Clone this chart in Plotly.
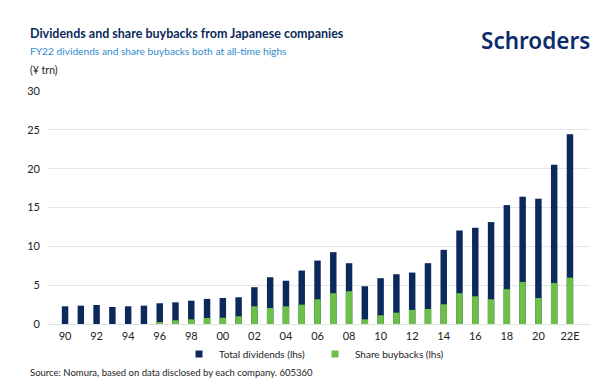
import plotly.graph_objects as go

years = ["90", "91", "92", "93", "94", "95", "96", "97", "98", "99",
         "00", "01", "02", "03", "04", "05", "06", "07", "08", "09",
         "10", "11", "12", "13", "14", "15", "16", "17", "18", "19",
         "20", "21", "22E"]
total_dividends = [2.28, 2.36, 2.45, 2.19, 2.28, 2.36, 2.67, 2.79, 3.00, 3.23,
                   3.35, 3.44, 4.74, 6.02, 5.57, 6.88, 8.17, 9.25, 7.83, 4.86,
                   5.90, 6.41, 6.62, 7.83, 9.55, 12.04, 12.39, 13.12, 15.31, 16.39,
                   16.13, 20.52, 24.43]
share_buybacks = [0, 0, 0, 0, 0, 0, 0.26, 0.48, 0.60, 0.77,
                  0.81, 0.99, 2.28, 2.06, 2.28, 2.49, 3.18, 3.96, 4.22, 0.60,
                  1.12, 1.46, 1.81, 1.94, 2.54, 3.96, 3.57, 3.18, 4.48, 5.42,
                  3.35, 5.29, 5.97]
tick_labels = ["90", "92", "94", "96", "98", "00", "02", "04", "06", "08",
               "10", "12", "14", "16", "18", "20", "22E"]
y_ticks = [0, 5, 10, 15, 20, 25, 30]

NAVY = "#0b2a5b"
GREEN = "#6cc04a"
BLUE = "#2f8ccb"
FONT = "Lato"
TXT = "#222222"

W, H = 606, 388
L, R, T, B = 40, 24, 83, 72
PW, PH = W - L - R, H - T - B


def px(x):
    return (x - L) / PW


def py(y):
    return (H - B - y) / PH


fig = go.Figure()
fig.add_trace(go.Bar(x=years, y=total_dividends, marker=dict(color=NAVY, line=dict(width=0)),
                     showlegend=False, name="Total dividends (lhs)"))
fig.add_trace(go.Bar(x=years, y=share_buybacks, marker=dict(color=GREEN, line=dict(width=0)),
                     showlegend=False, name="Share buybacks (lhs)"))
fig.add_trace(go.Scatter(x=[None], y=[None], mode="markers", name="Total dividends (lhs)",
                         marker=dict(symbol="square", size=7, color=NAVY)))
fig.add_trace(go.Scatter(x=[None], y=[None], mode="markers", name="Share buybacks (lhs)",
                         marker=dict(symbol="square", size=7, color=GREEN)))

annotations = [
    dict(text="<b>Dividends and share buybacks from Japanese companies</b>", x=px(20), y=py(25),
         font=dict(size=12.5, color=NAVY, family=FONT)),
    dict(text="FY22 dividends and share buybacks both at all-time highs", x=px(20), y=py(43),
         font=dict(size=10.2, color=BLUE, family=FONT)),
    dict(text="(¥ trn)", x=px(20), y=py(62), font=dict(size=10.5, color=TXT, family=FONT)),
    dict(text="Source: Nomura, based on data disclosed by each company. 605360", x=px(20), y=py(364),
         font=dict(size=9.5, color=TXT, family=FONT)),
]
for a in annotations:
    a.update(xref="paper", yref="paper", xanchor="left", yanchor="middle", showarrow=False)
annotations.append(dict(text="Schroders", x=px(584), y=py(32), xref="paper", yref="paper",
                        xanchor="right", yanchor="middle", showarrow=False,
                        font=dict(size=22.5, color="#0c2c6a", family="Noto Sans", weight=600)))

fig.update_layout(
    width=W, height=H,
    margin=dict(l=L, r=R, t=T, b=B, pad=0),
    paper_bgcolor="white", plot_bgcolor="white",
    barmode="overlay", bargap=0.59,
    font=dict(family=FONT, size=11, color=TXT),
    annotations=annotations,
    legend=dict(orientation="h", x=px(171), xanchor="left", y=py(346), yanchor="middle",
                font=dict(size=10, color=TXT, family=FONT),
                entrywidth=91, entrywidthmode="pixels",
                bgcolor="rgba(0,0,0,0)"),
    xaxis=dict(type="category", range=[-1.08, 33.27], tickmode="array", tickvals=tick_labels,
               ticktext=tick_labels, showgrid=False, showline=False, zeroline=False,
               ticks="", ticklabelstandoff=4, tickfont=dict(size=11, color=TXT)),
    yaxis=dict(range=[0, 30], tickvals=y_ticks, showgrid=True, gridcolor="#e6e6e6", gridwidth=1,
               zeroline=True, zerolinecolor="#e0e0e0", zerolinewidth=1, showline=False,
               ticks="", ticklabelstandoff=7, tickfont=dict(size=11, color=TXT)),
)

fig.write_html("out.html")
